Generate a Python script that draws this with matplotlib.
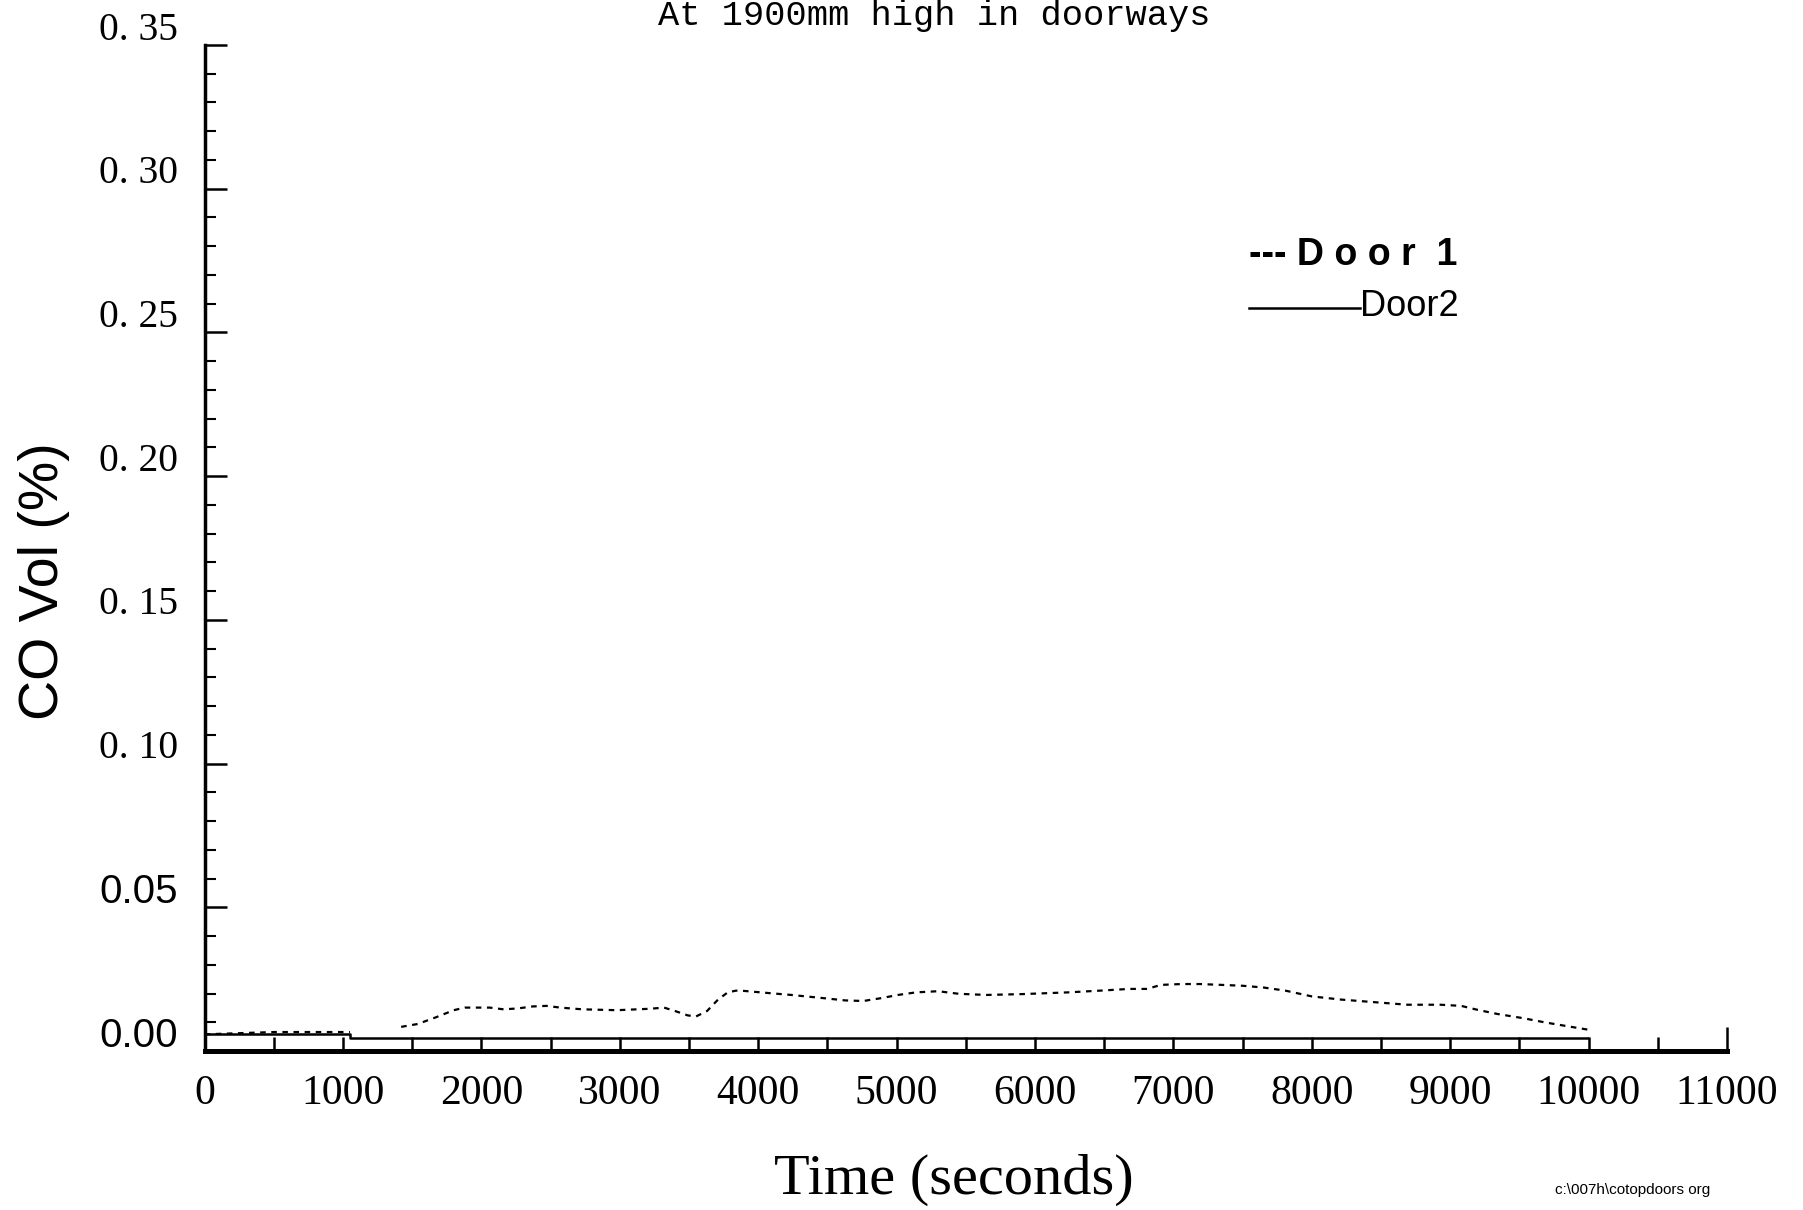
import numpy as np
import matplotlib
matplotlib.use("Agg")
import matplotlib.pyplot as plt
from matplotlib.transforms import ScaledTranslation
from matplotlib.lines import Line2D

# ---- data ----
door1_time = [0, 500, 1050, np.nan, 1420, 1540, 1670, 1800, 1880, 1950, 2060, 2160, 2260,
              2370, 2470, 2570, 2730, 2980, 3220, 3320, 3400, 3490, 3550, 3630, 3710,
              3780, 3840, 3900, 4090, 4240, 4470, 4630, 4760, 4890, 5010, 5140, 5300,
              5450, 5650, 5910, 6240, 6470, 6680, 6810, 6910, 7060, 7190, 7350, 7500,
              7650, 7810, 8000, 8210, 8450, 8690, 8930, 9080, 9200, 9340, 9530, 9680,
              9850, 10000]
door1_co = [0.0058, 0.0066, 0.0066, np.nan, 0.0084, 0.0094, 0.0117, 0.0142, 0.0151, 0.0151,
            0.0151, 0.0145, 0.0148, 0.0155, 0.0157, 0.0151, 0.0145, 0.0142, 0.0147,
            0.0151, 0.0139, 0.0124, 0.0120, 0.0139, 0.0179, 0.0204, 0.0210, 0.0209,
            0.0201, 0.0195, 0.0184, 0.0176, 0.0174, 0.0184, 0.0195, 0.0204, 0.0208,
            0.0199, 0.0195, 0.0198, 0.0204, 0.0210, 0.0216, 0.0216, 0.0230, 0.0233,
            0.0233, 0.0230, 0.0227, 0.0221, 0.0210, 0.0190, 0.0179, 0.0170, 0.0161,
            0.0161, 0.0157, 0.0143, 0.0129, 0.0114, 0.0100, 0.0086, 0.0074]

door2_time = [0, 1050, 1050, 10000]
door2_co = [0.0058, 0.0058, 0.0045, 0.0045]

x_major = list(range(0, 11001, 1000))
x_minor = list(range(500, 11000, 1000))
x_labels = [str(v) for v in x_major]
y_major = [0.00, 0.05, 0.10, 0.15, 0.20, 0.25, 0.30, 0.35]
y_minor = [round(0.01 * k, 2) for k in range(36)]
y_labels = ["0.00", "0.05", "0. 10", "0. 15", "0. 20", "0. 25", "0. 30", "0. 35"]

title_text = "At 1900mm high in doorways"
xlabel_text = "Time (seconds)"
ylabel_text = "CO Vol (%)"
legend1_text = "--- D o o r  1"
legend2_text = "Door2"
footnote_text = "c:\\007h\\cotopdoors org"

# ---- figure ----
fig = plt.figure(figsize=(18.03, 12.10), dpi=100)
fig.patch.set_facecolor("white")
ax = fig.add_axes([0.1135, 0.1314, 0.8443, 0.8314])

ax.plot(door1_time, door1_co, color="black", lw=1.6, linestyle=(0, (2.5, 2.5)))
ax.plot(door2_time, door2_co, color="black", lw=1.8, solid_capstyle="butt")

ax.set_xlim(0, 11000)
ax.set_ylim(0, 0.35)

for s in ["top", "right"]:
    ax.spines[s].set_visible(False)
ax.spines["left"].set_linewidth(2.5)
ax.spines["bottom"].set_linewidth(3.6)

serif = "Liberation Serif"
sans = "Liberation Sans"

ax.set_xticks(x_major)
ax.set_xticks(x_minor, minor=True)
ax.set_xticklabels(x_labels, fontfamily=serif, fontsize=30)
ax.tick_params(axis="x", which="both", direction="in", width=1.8, pad=17)
ax.tick_params(axis="x", which="major", length=10)
ax.tick_params(axis="x", which="minor", length=10)

ax.set_yticks(y_major)
ax.set_yticks(y_minor, minor=True)
ax.set_yticklabels(y_labels, fontsize=28)
ax.tick_params(axis="y", which="major", direction="in", length=16, width=1.8, pad=19)
ax.tick_params(axis="y", which="minor", direction="in", length=8, width=1.5)

for tick, txt in zip(ax.yaxis.get_major_ticks(), y_labels):
    lab = tick.label1
    if txt in ("0.00", "0.05"):
        lab.set_fontfamily(sans)
        lab.set_fontsize(29)
    else:
        lab.set_fontfamily(serif)
        lab.set_fontsize(28.5)
    lab.set_transform(lab.get_transform() + ScaledTranslation(0, 14 / 72, fig.dpi_scale_trans))

# taller end tick at 11000
last = ax.xaxis.get_major_ticks()[-1]
last.tick1line.set_markersize(17)

ax.set_xlabel(xlabel_text, fontfamily=serif, fontsize=42)
ax.xaxis.set_label_coords(0.492, -0.128)
ax.xaxis.label.set_va("center")

ax.set_ylabel(ylabel_text, fontfamily=sans, fontsize=40)
ax.yaxis.set_label_coords(-0.1056, 0.467)
ax.yaxis.label.set_va("center")

ax.text(0.479, 1.029, title_text, transform=ax.transAxes, ha="center", va="center",
        fontfamily="Liberation Mono", fontsize=25.5)

# legend (hand-built to match the original layout)
fig.text(0.6927, 0.789, legend1_text, ha="left", va="center",
         fontfamily=sans, fontweight="bold", fontsize=27)
fig.add_artist(Line2D([0.6927, 0.7543], [0.7455, 0.7455], transform=fig.transFigure,
                      color="black", lw=1.8))
fig.text(0.7543, 0.7465, legend2_text, ha="left", va="center",
         fontfamily=sans, fontsize=26)

fig.text(0.8625, 0.0165, footnote_text, ha="left", va="center",
         fontfamily=sans, fontsize=11)

fig.savefig("out.png", dpi=100, facecolor="white")
